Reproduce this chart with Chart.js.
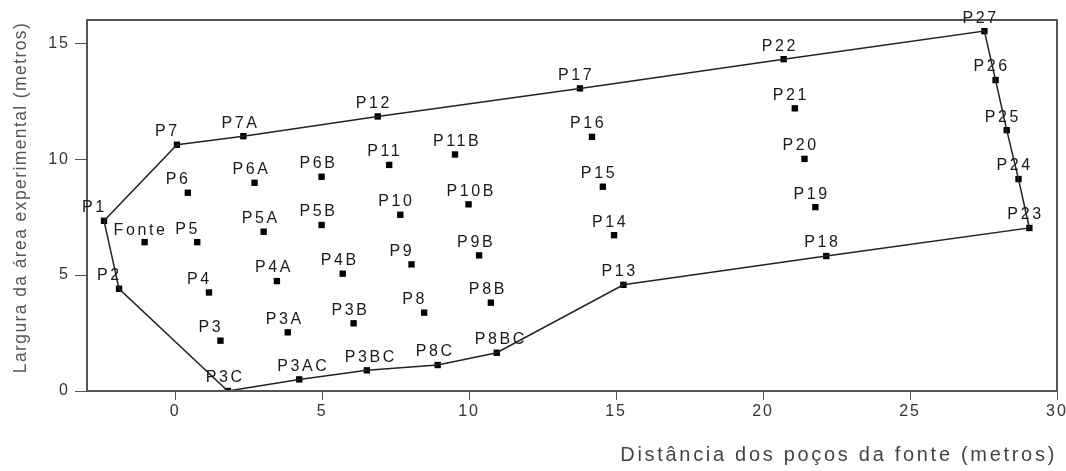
<!DOCTYPE html>
<html>
<head>
<meta charset="utf-8">
<script src="https://cdn.jsdelivr.net/npm/chart.js@4/dist/chart.umd.min.js"></script>
<style>
html,body{margin:0;padding:0;background:#fff;}
#wrap{width:1066px;height:471px;position:relative;}
</style>
</head>
<body>
<div id="wrap"><canvas id="c" width="1066" height="471"></canvas></div>
<script>
// ---- data ----
const names = ['P1','P2','Fonte','P5','P6','P7','P4','P3','P3C','P7A','P6A','P5A','P4A','P3A','P3AC',
  'P6B','P5B','P4B','P3B','P3BC','P12','P11','P10','P9','P8','P8C','P11B','P10B','P9B','P8B','P8BC',
  'P17','P16','P15','P14','P13','P22','P21','P20','P19','P18','P27','P26','P25','P24','P23'];
const xs = [-2.42,-1.91,-1.04,0.75,0.43,0.06,1.15,1.54,1.79,2.32,2.70,3.01,3.46,3.83,4.22,
  4.98,4.98,5.70,6.07,6.52,6.89,7.28,7.66,8.04,8.47,8.93,9.52,9.98,10.34,10.74,10.94,
  13.77,14.18,14.55,14.93,15.25,20.70,21.08,21.41,21.78,22.15,27.53,27.91,28.29,28.69,29.06];
const ys = [7.34,4.41,6.42,6.42,8.55,10.62,4.25,2.17,0.00,10.99,8.98,6.87,4.74,2.53,0.50,
  9.24,7.16,5.06,2.92,0.89,11.84,9.75,7.60,5.46,3.38,1.12,10.20,8.05,5.85,3.81,1.65,
  13.05,10.96,8.81,6.72,4.58,14.31,12.19,10.01,7.93,5.82,15.52,13.41,11.25,9.14,7.03];
const boundary = ['P1','P7','P7A','P12','P17','P22','P27','P26','P25','P24','P23','P18','P13',
  'P8BC','P8C','P3BC','P3AC','P3C','P2','P1'];
const xTitle = 'Distância dos poços da fonte (metros)';
const yTitle = 'Largura da área experimental (metros)';

const pts = names.map((n,i)=>({x:xs[i], y:ys[i], name:n}));
const boundaryPts = boundary.map(n=>{const i=names.indexOf(n); return {x:xs[i], y:ys[i]};});

const FONT = "'Liberation Sans', Arial, sans-serif";

function wrapSpacing(scale, method, spacing, dy){
  const key = '_ls_'+method;
  if (scale[key]) return;
  const orig = scale[method];
  scale[method] = function(...a){
    const c = this.ctx; const prev = c.letterSpacing;
    c.save();
    c.letterSpacing = spacing;
    if (dy) c.translate(0, dy);
    const r = orig.apply(this, a);
    c.restore();
    c.letterSpacing = prev;
    return r;
  };
  scale[key] = true;
}

const spacingPlugin = {
  id: 'spacing',
  beforeDraw(chart){
    wrapSpacing(chart.scales.x, 'drawLabels', '2px', 0);
    wrapSpacing(chart.scales.x, 'drawTitle', '2.7px', 0);
    wrapSpacing(chart.scales.y, 'drawLabels', '2px', 0);
    wrapSpacing(chart.scales.y, 'drawTitle', '1.4px', -8);
  }
};

const framePlugin = {
  id: 'frame',
  afterDatasetsDraw(chart){
    const {ctx, chartArea:a} = chart;
    ctx.save();
    ctx.strokeStyle = '#555';
    ctx.lineWidth = 2;
    ctx.strokeRect(a.left, a.top, a.right - a.left, a.bottom - a.top);
    ctx.restore();
  }
};

const labelPlugin = {
  id: 'ptLabels',
  afterDraw(chart, args, opts){
    const {ctx} = chart;
    const meta = chart.getDatasetMeta(1);
    ctx.save();
    ctx.font = opts.font;
    ctx.letterSpacing = opts.spacing;
    ctx.fillStyle = opts.color;
    ctx.textAlign = 'left';
    ctx.textBaseline = 'middle';
    meta.data.forEach((el, i) => {
      const n = pts[i].name;
      const off = (opts.special[n]) || opts.offset;
      ctx.fillText(n, el.x + off[0], el.y + off[1]);
    });
    ctx.restore();
  }
};

new Chart(document.getElementById('c'), {
  type: 'scatter',
  data: {
    datasets: [
      {
        label: 'limite',
        data: boundaryPts,
        showLine: true,
        borderColor: '#222',
        borderWidth: 1.5,
        pointRadius: 0,
        fill: false,
        tension: 0
      },
      {
        label: 'poços',
        data: pts,
        showLine: false,
        pointStyle: 'rect',
        pointRadius: 4.5,
        backgroundColor: '#000',
        borderColor: '#000',
        borderWidth: 0
      }
    ]
  },
  options: {
    responsive: false,
    animation: false,
    devicePixelRatio: 1,
    layout: { padding: { left: 0, right: 9, top: 20, bottom: 4 } },
    plugins: {
      legend: { display: false },
      tooltip: { enabled: false },
      ptLabels: {
        font: '16px ' + FONT,
        spacing: '2.6px',
        color: '#1a1a1a',
        offset: [-22, -13],
        special: { 'Fonte': [-31, -12] }
      }
    },
    scales: {
      x: {
        type: 'linear',
        min: -3, max: 30,
        border: { display: true, color: '#555', width: 2 },
        grid: { display: true, drawOnChartArea: false, drawTicks: true, tickLength: 9, color: '#555', lineWidth: 1 },
        ticks: { stepSize: 5, includeBounds: false, padding: 2, color: '#333', font: { family: FONT, size: 16 } },
        title: { display: true, text: xTitle, align: 'end', color: '#444', font: { family: FONT, size: 20 }, padding: { top: 0, bottom: 0 } },
        afterFit(s){ s.height = 76; s.paddingLeft = 0; s.paddingRight = 0; }
      },
      y: {
        type: 'linear',
        min: 0, max: 16,
        border: { display: true, color: '#555', width: 2 },
        grid: { display: true, drawOnChartArea: false, drawTicks: true, tickLength: 12, color: '#555', lineWidth: 1 },
        ticks: { stepSize: 5, includeBounds: false, padding: 5, color: '#333', font: { family: FONT, size: 16 } },
        title: { display: true, text: yTitle, color: '#555', font: { family: FONT, size: 17.5 }, padding: { top: 11, bottom: 0 } },
        afterFit(s){ s.width = 87; s.paddingTop = 0; s.paddingBottom = 0; }
      }
    }
  },
  plugins: [spacingPlugin, framePlugin, labelPlugin]
});
</script>
</body>
</html>
